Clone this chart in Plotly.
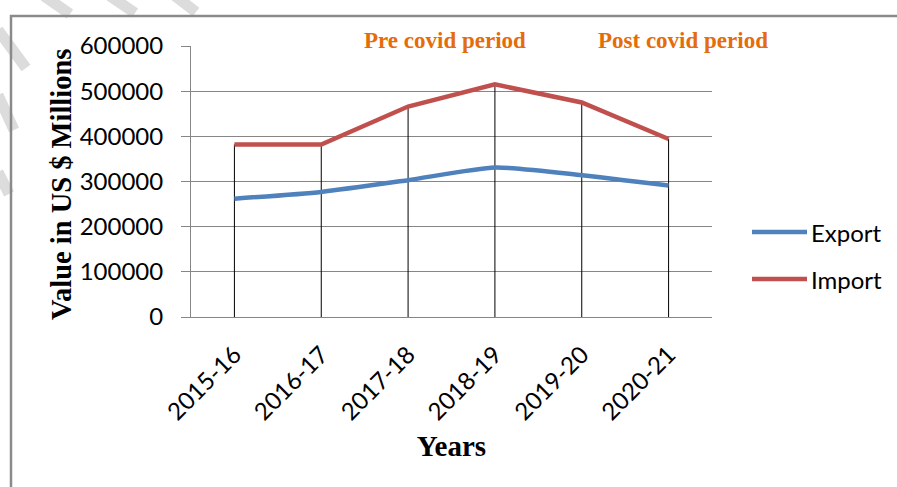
import plotly.graph_objects as go

years = ["2015-16", "2016-17", "2017-18", "2018-19", "2019-20", "2020-21"]
export_vals = [262000, 277000, 303000, 331000, 314000, 291000]
import_vals = [382000, 382000, 466000, 515000, 475000, 394000]
y_ticks = [0, 100000, 200000, 300000, 400000, 500000, 600000]

W, H = 897, 487
L, R, T, B = 191, 185, 46, 170
PW, PH = W - L - R, H - T - B


def px(x):
    return (x - L) / PW


def py(y):
    return (H - B - y) / PH


BLUE = "#4F81BD"
RED = "#C0504D"
GRID = "#868686"
ORANGE = "#E46C0A"
TICKFONT = dict(family="Lato, Open Sans, sans-serif", size=24, color="#000000")
SERIF = "Liberation Serif, Times New Roman, serif"

# drop lines built from the import series
drop_x, drop_y = [], []
for c, v in zip(years, import_vals):
    drop_x += [c, c, None]
    drop_y += [0, v, None]

fig = go.Figure()
fig.add_trace(go.Scatter(x=drop_x, y=drop_y, mode="lines",
                         line=dict(color="#000000", width=1),
                         showlegend=False, hoverinfo="skip"))
fig.add_trace(go.Scatter(x=years, y=export_vals, mode="lines", name="Export",
                         line=dict(color=BLUE, width=4.5, shape="spline", smoothing=0.6),
                         showlegend=False))
fig.add_trace(go.Scatter(x=years, y=import_vals, mode="lines", name="Import",
                         line=dict(color=RED, width=4.5),
                         showlegend=False))

shapes = []
# decorative light-grey stripes in the top-left corner
for (x0, y0, x1, y1) in [(44, -4, 70, 14), (110, -4, 135, 13), (175, -4, 196, 12),
                         (-2, 30, 26, 68), (-2, 95, 14, 130), (-2, 172, 9, 194)]:
    shapes.append(dict(type="line", xref="paper", yref="paper", layer="below",
                       x0=px(x0), y0=py(y0), x1=px(x1), y1=py(y1),
                       line=dict(color="#dcdcdc", width=11)))
# chart frame
shapes.append(dict(type="rect", xref="paper", yref="paper", layer="below",
                   x0=px(11), y0=py(H + 20), x1=px(W + 20), y1=py(16),
                   line=dict(color="#8a8a8a", width=2.5), fillcolor="rgba(0,0,0,0)"))
# legend keys
for name, col, yy in [("Export", BLUE, 232), ("Import", RED, 279)]:
    shapes.append(dict(type="line", xref="paper", yref="paper",
                       x0=px(752), x1=px(807), y0=py(yy), y1=py(yy),
                       line=dict(color=col, width=4.5)))

annotations = [
    dict(text="<b>Pre covid period</b>", xref="paper", yref="paper",
         x=px(445), y=py(40), showarrow=False, xanchor="center", yanchor="middle",
         font=dict(family=SERIF, size=23, color=ORANGE)),
    dict(text="<b>Post covid period</b>", xref="paper", yref="paper",
         x=px(683), y=py(40), showarrow=False, xanchor="center", yanchor="middle",
         font=dict(family=SERIF, size=23, color=ORANGE)),
    dict(text="<b>Value in US $ Millions</b>", xref="paper", yref="paper",
         x=px(62), y=py(185), showarrow=False, xanchor="center", yanchor="middle",
         textangle=-90, font=dict(family=SERIF, size=28.5, color="#000")),
]
for name, yy in [("Export", 232), ("Import", 279)]:
    annotations.append(dict(text=name, xref="paper", yref="paper",
                            x=px(809), y=py(yy), showarrow=False,
                            xanchor="left", yanchor="middle", font=TICKFONT))

fig.update_layout(
    width=W, height=H, autosize=False,
    margin=dict(l=L, r=R, t=T, b=B, pad=0),
    paper_bgcolor="white", plot_bgcolor="white",
    shapes=shapes, annotations=annotations,
    xaxis=dict(type="category", range=[-0.5, 5.5], showgrid=False,
               showline=True, linecolor=GRID, linewidth=1, ticks="",
               tickangle=-45, tickfont=TICKFONT, automargin=False,
               ticklabelstandoff=13,
               title=dict(text="<b>Years</b>", font=dict(family=SERIF, size=29, color="#000"),
                          standoff=11)),
    yaxis=dict(range=[0, 600000], tickvals=y_ticks, tickformat="d",
               showgrid=True, gridcolor=GRID, gridwidth=1,
               showline=True, linecolor=GRID, linewidth=1,
               ticks="outside", ticklen=9, tickcolor=GRID,
               ticklabelstandoff=13,
               tickfont=TICKFONT, zeroline=False, automargin=False),
)

fig.write_html("out.html", config={"displayModeBar": False},
               post_script="document.body.style.margin='0';document.body.style.padding='0';")
